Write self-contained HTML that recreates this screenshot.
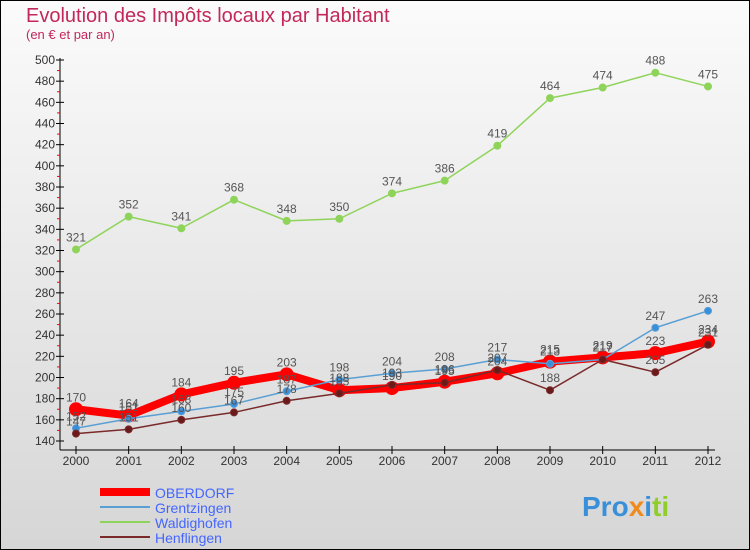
<!DOCTYPE html>
<html><head><meta charset="utf-8"><style>
body{margin:0;width:750px;height:550px;overflow:hidden}
svg{display:block;font-family:"Liberation Sans",sans-serif}
</style></head><body>
<svg id="c" width="750" height="550">
<defs><linearGradient id="bg" x1="0" y1="0" x2="0" y2="1"><stop offset="0" stop-color="#fbfbfb"/><stop offset="1" stop-color="#d6d6d6"/></linearGradient></defs>
<rect x="0.5" y="0.5" width="749" height="549" fill="url(#bg)" stroke="#000"/>
<text x="26" y="22" font-size="20" fill="#c2285a">Evolution des Impôts locaux par Habitant</text>
<text x="26" y="39" font-size="13" fill="#c2285a">(en € et par an)</text>
<g id="axes"></g><g id="series"></g><g id="labels"></g>
<g>
<line x1="100" y1="492" x2="150" y2="492" stroke="#f00" stroke-width="8"/><text x="155" y="498" font-size="14" fill="#4466ff">OBERDORF</text>
<line x1="100" y1="507" x2="150" y2="507" stroke="#5a9fd4" stroke-width="2"/><text x="155" y="513" font-size="14" fill="#4466ff">Grentzingen</text>
<line x1="100" y1="522" x2="150" y2="522" stroke="#8fd45a" stroke-width="2"/><text x="155" y="528" font-size="14" fill="#4466ff">Waldighofen</text>
<line x1="100" y1="537" x2="150" y2="537" stroke="#7a2a2a" stroke-width="2"/><text x="155" y="543" font-size="14" fill="#4466ff">Henflingen</text>
</g>
<text x="582" y="516" font-size="28" font-weight="bold"><tspan fill="#3a8fd9">Pro</tspan><tspan fill="#f08a1c">x</tspan><tspan fill="#3a8fd9">i</tspan><tspan fill="#8fce2a">ti</tspan></text>
</svg>
<script>
const years=[2000,2001,2002,2003,2004,2005,2006,2007,2008,2009,2010,2011,2012];
const oberdorf=[170,164,184,195,203,188,190,196,204,215,219,223,234];
const grentzingen=[152,161,168,175,187,198,204,208,217,213,217,247,263];
const waldighofen=[321,352,341,368,348,350,374,386,419,464,474,488,475];
const henflingen=[147,151,160,167,178,185,193,195,207,188,217,205,231];
const yTicks=[140,160,180,200,220,240,260,280,300,320,340,360,380,400,420,440,460,480,500];
const NS='http://www.w3.org/2000/svg';
const x=i=>76+i*(708-76)/(years.length-1);
const y=v=>441-(v-140)*(441-60)/360;
function mk(t,a,p){const e=document.createElementNS(NS,t);for(const k in a)e.setAttribute(k,a[k]);p.appendChild(e);return e;}
const ax=document.getElementById('axes');
const yl=mk('line',{x1:60,y1:58,x2:60,y2:450,stroke:'#000'},ax);


const xl=mk('line',{x1:60,y1:450,x2:715,y2:450,stroke:'#000'},ax);


yTicks.forEach((v,k)=>{mk('line',{x1:56,x2:64,y1:y(v),y2:y(v),stroke:'#000'},ax);
if(k<yTicks.length-1)mk('line',{x1:57,x2:60,y1:y(v+10),y2:y(v+10),stroke:'#f00'},ax);
const t=mk('text',{x:55,y:y(v)+4,'text-anchor':'end','font-size':12,fill:'#333'},ax);t.textContent=v;

});
years.forEach((yr,i)=>{mk('line',{x1:x(i),x2:x(i),y1:446,y2:454,stroke:'#000'},ax);
const t=mk('text',{x:x(i),y:465,'text-anchor':'middle','font-size':12,fill:'#333'},ax);t.textContent=yr;

});
const sg=document.getElementById('series'),lg=document.getElementById('labels');
function draw(d,col,w,r,name,dot){
const pl=mk('polyline',{points:d.map((v,i)=>x(i)+','+y(v)).join(' '),fill:'none',stroke:col,'stroke-width':w,'stroke-linejoin':'round'},sg);


d.forEach((v,i)=>{const c=mk('circle',{cx:x(i),cy:y(v),r:r,fill:dot,stroke:col,'stroke-width':1},sg);


const t=mk('text',{x:x(i),y:y(v)-8,'text-anchor':'middle','font-size':12,fill:'#555'},lg);t.textContent=v;

});}
draw(waldighofen,'#8fd45a',1.5,3.5,'waldighofen','#8fd45a');
draw(oberdorf,'#f00',8,6.5,'oberdorf','#f00');
draw(grentzingen,'#5a9fd4',1.5,3.5,'grentzingen','#3a8fd9');
draw(henflingen,'#7a2a2a',1.5,3.5,'henflingen','#6a1a1a');
</script>
</body></html>
